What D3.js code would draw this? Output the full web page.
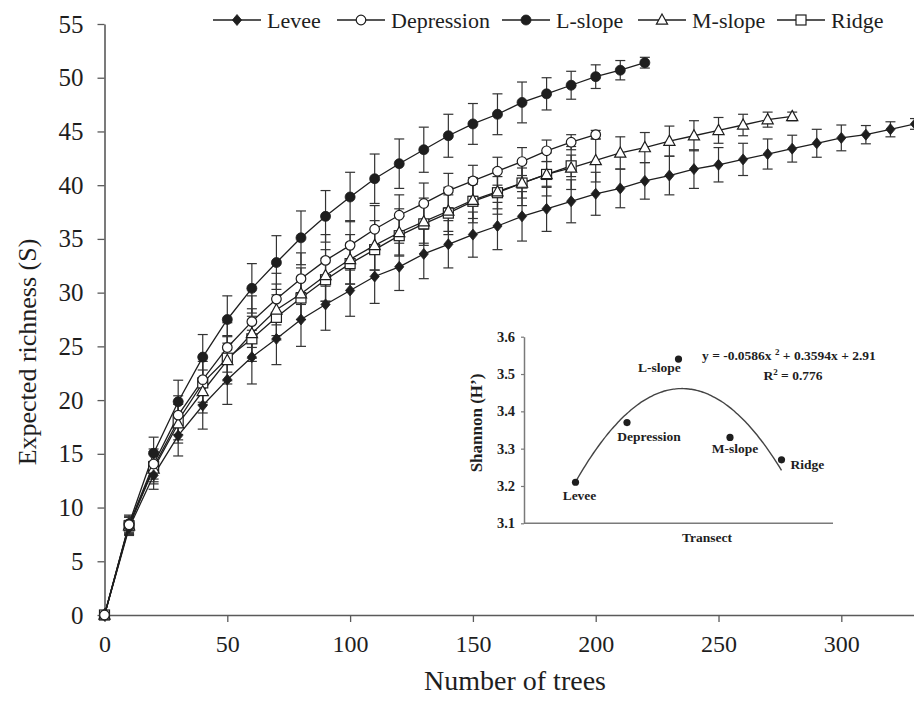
<!DOCTYPE html>
<html>
<head>
<meta charset="utf-8">
<script src="https://cdn.jsdelivr.net/npm/d3@7"></script>
<style>
  html, body { margin: 0; padding: 0; background: #fff; }
  svg { display: block; }
</style>
</head>
<body>
<svg id="chart" width="914" height="707"></svg>
<script>
// ---------------- DATA ----------------
const trees = d3.range(0, 340, 10); // 0..330

const leveeMean = [0, 8.1, 13.0, 16.7, 19.5, 21.9, 24.0, 25.7, 27.5, 28.9, 30.2, 31.5, 32.4, 33.6, 34.5, 35.4, 36.2, 37.1, 37.8, 38.5, 39.2, 39.7, 40.4, 40.9, 41.5, 41.9, 42.4, 42.9, 43.4, 43.9, 44.4, 44.7, 45.2, 45.7];
const leveeSD   = [0, 0.7, 1.3, 1.9, 2.2, 2.3, 2.5, 2.4, 2.5, 2.4, 2.4, 2.5, 2.2, 2.3, 2.2, 2.1, 2.2, 2.3, 2.1, 2.0, 2.0, 1.8, 1.7, 1.8, 1.8, 1.6, 1.5, 1.4, 1.25, 1.3, 1.2, 0.85, 0.7, 0.5];

const depressionMean = [0, 8.4, 14.05, 18.6, 21.9, 24.9, 27.3, 29.4, 31.3, 33.0, 34.4, 35.9, 37.2, 38.3, 39.5, 40.4, 41.3, 42.2, 43.2, 44.0, 44.7];
const depressionSD   = [0, 0.8, 1.4, 1.8, 2.1, 2.3, 2.4, 2.4, 2.4, 2.4, 2.3, 2.2, 1.9, 1.9, 1.6, 1.45, 1.3, 1.3, 1.0, 0.7, 0.4];

const lslopeMean = [0, 8.5, 15.05, 19.85, 24.0, 27.5, 30.4, 32.8, 35.1, 37.1, 38.9, 40.6, 42.0, 43.3, 44.6, 45.7, 46.6, 47.7, 48.5, 49.3, 50.1, 50.7, 51.4];
const lslopeSD   = [0, 0.8, 1.5, 2.0, 2.1, 2.2, 2.3, 2.5, 2.5, 2.4, 2.3, 2.3, 2.3, 2.1, 2.0, 1.9, 1.9, 1.9, 1.5, 1.3, 1.1, 0.9, 0.5];

const mslopeMean = [0, 8.3, 13.6, 17.8, 20.8, 23.7, 26.2, 28.4, 29.9, 31.6, 33.1, 34.4, 35.6, 36.6, 37.6, 38.6, 39.4, 40.2, 41.0, 41.6, 42.3, 43.0, 43.5, 44.1, 44.6, 45.1, 45.6, 46.1, 46.4];
const mslopeSD   = [0, 0.8, 1.4, 1.8, 2.0, 2.2, 2.3, 2.4, 2.4, 2.4, 2.3, 2.3, 2.2, 2.2, 2.2, 2.1, 2.1, 2.1, 2.0, 2.0, 2.0, 1.5, 1.4, 1.4, 1.4, 1.2, 1.0, 0.7, 0.4];

const ridgeMean = [0, 8.3, 13.8, 18.1, 21.6, 23.9, 25.7, 27.7, 29.5, 31.2, 32.7, 34.0, 35.3, 36.4, 37.4, 38.5, 39.3, 40.2, 41.0, 41.8];
const ridgeSD   = [0, 0.8, 1.4, 1.8, 2.0, 2.1, 2.1, 2.1, 2.0, 2.0, 1.9, 1.9, 1.8, 1.8, 1.7, 1.6, 1.5, 1.4, 1.2, 1.0];

const seriesNames = ["Levee", "Depression", "L-slope", "M-slope", "Ridge"];
const xTicks = [0, 50, 100, 150, 200, 250, 300];
const yTicks = [0, 5, 10, 15, 20, 25, 30, 35, 40, 45, 50, 55];

// inset
const insetSites = ["Levee", "Depression", "L-slope", "M-slope", "Ridge"];
const insetX = [1, 2, 3, 4, 5];
const insetShannon = [3.21, 3.37, 3.54, 3.33, 3.27];
const insetYTicks = [3.1, 3.2, 3.3, 3.4, 3.5, 3.6];
const fitCoef = [-0.0586, 0.3594, 2.91]; // a, b, c  (y = a x^2 + b x + c)
const fitR2 = 0.776;

// ---------------- CHART ----------------
const svg = d3.select("#chart");
const FONT = "'Liberation Serif', 'Times New Roman', serif";
const INK = "#1e1e1e";
const AXIS = "#5a5a5a";

const x = d3.scaleLinear().domain([0, 330]).range([104.5, 915]);
const y = d3.scaleLinear().domain([0, 55]).range([615, 24]);

// axes
const gx = svg.append("g").attr("transform", `translate(0,${y(0)})`)
  .call(d3.axisBottom(x).tickValues(xTicks).tickSize(7).tickSizeOuter(0).tickPadding(13));
const gy = svg.append("g").attr("transform", `translate(${x(0)},0)`)
  .call(d3.axisLeft(y).tickValues(yTicks).tickSize(7).tickSizeOuter(0).tickPadding(14));
[gx, gy].forEach(g => {
  g.select(".domain").attr("stroke", AXIS).attr("stroke-width", 1.6);
  g.selectAll(".tick line").attr("stroke", AXIS).attr("stroke-width", 1.3);
  g.selectAll(".tick text").attr("fill", INK).style("font-family", FONT);
});
gx.selectAll(".tick text").style("font-size", "24px");
gy.selectAll(".tick text").style("font-size", "25px");

svg.append("text").attr("x", 515).attr("y", 690).attr("text-anchor", "middle")
  .style("font-family", FONT).style("font-size", "28px").attr("fill", INK).text("Number of trees");
svg.append("text").attr("transform", "translate(36,352) rotate(-90)").attr("text-anchor", "middle")
  .style("font-family", FONT).style("font-size", "26px").attr("fill", INK).text("Expected richness (S)");

// marker drawing helpers
function marker(g, kind, cx, cy) {
  if (kind === "diamond") {
    g.append("path").attr("d", `M${cx},${cy-5.5}L${cx+4.6},${cy}L${cx},${cy+5.5}L${cx-4.6},${cy}Z`)
      .attr("fill", INK).attr("stroke", INK).attr("stroke-width", 0.8);
  } else if (kind === "openCircle") {
    g.append("circle").attr("cx", cx).attr("cy", cy).attr("r", 4.8)
      .attr("fill", "#fff").attr("stroke", INK).attr("stroke-width", 1.2);
  } else if (kind === "filledCircle") {
    g.append("circle").attr("cx", cx).attr("cy", cy).attr("r", 5)
      .attr("fill", INK).attr("stroke", INK).attr("stroke-width", 0.8);
  } else if (kind === "triangle") {
    g.append("path").attr("d", `M${cx},${cy-6}L${cx+5.6},${cy+4.2}L${cx-5.6},${cy+4.2}Z`)
      .attr("fill", "#fff").attr("stroke", INK).attr("stroke-width", 1.2);
  } else if (kind === "square") {
    g.append("rect").attr("x", cx-5).attr("y", cy-5).attr("width", 10).attr("height", 10)
      .attr("fill", "#fff").attr("stroke", INK).attr("stroke-width", 1.2);
  }
}

const series = [
  {name: "Levee", mean: leveeMean, sd: leveeSD, kind: "diamond"},
  {name: "Depression", mean: depressionMean, sd: depressionSD, kind: "openCircle"},
  {name: "L-slope", mean: lslopeMean, sd: lslopeSD, kind: "filledCircle"},
  {name: "M-slope", mean: mslopeMean, sd: mslopeSD, kind: "triangle"},
  {name: "Ridge", mean: ridgeMean, sd: ridgeSD, kind: "square"}
];

const plot = svg.append("g");
const drawOrder = ["Ridge", "M-slope", "Levee", "L-slope", "Depression"];
const line = d3.line().x(d => x(d.t)).y(d => y(d.v));

// error bars first
drawOrder.forEach(nm => {
  const s = series.find(d => d.name === nm);
  const pts = s.mean.map((v, i) => ({t: trees[i], v, e: s.sd[i]}));
  const eg = plot.append("g").attr("stroke", "#333").attr("stroke-width", 1.2);
  pts.filter(p => p.e > 0).forEach(p => {
    eg.append("line").attr("x1", x(p.t)).attr("x2", x(p.t)).attr("y1", y(p.v - p.e)).attr("y2", y(p.v + p.e));
    eg.append("line").attr("x1", x(p.t) - 5).attr("x2", x(p.t) + 5).attr("y1", y(p.v - p.e)).attr("y2", y(p.v - p.e));
    eg.append("line").attr("x1", x(p.t) - 5).attr("x2", x(p.t) + 5).attr("y1", y(p.v + p.e)).attr("y2", y(p.v + p.e));
  });
});
// lines
drawOrder.forEach(nm => {
  const s = series.find(d => d.name === nm);
  const pts = s.mean.map((v, i) => ({t: trees[i], v}));
  plot.append("path").datum(pts).attr("d", line).attr("fill", "none").attr("stroke", INK).attr("stroke-width", 1.3);
});
// markers
drawOrder.forEach(nm => {
  const s = series.find(d => d.name === nm);
  const mg = plot.append("g");
  s.mean.forEach((v, i) => marker(mg, s.kind, x(trees[i]), y(v)));
});

// legend
const legendLineX = [213, 337, 502, 638, 777];
const legend = svg.append("g");
series.forEach((s, i) => {
  const lx = legendLineX[i], ly = 20;
  legend.append("line").attr("x1", lx).attr("x2", lx + 48).attr("y1", ly).attr("y2", ly)
    .attr("stroke", INK).attr("stroke-width", 1.3);
  marker(legend, s.kind, lx + 24, ly);
  legend.append("text").attr("x", lx + 54).attr("y", ly + 7.5)
    .style("font-family", FONT).style("font-size", "22px").attr("fill", INK).text(s.name);
});

// ---------------- INSET ----------------
const xi = d3.scaleLinear().domain([0, 6]).range([524, 833]);
const yi = d3.scaleLinear().domain([3.1, 3.6]).range([523.3, 336.7]);
const inset = svg.append("g");
const INSET_AXIS = "#7a7a7a";
const giy = inset.append("g").attr("transform", `translate(${xi(0)},0)`)
  .call(d3.axisLeft(yi).tickValues(insetYTicks).tickFormat(d3.format(".1f")).tickSize(3).tickSizeOuter(0).tickPadding(6));
giy.select(".domain").attr("stroke", INSET_AXIS).attr("stroke-width", 1.5);
giy.selectAll(".tick line").attr("stroke", INSET_AXIS).attr("stroke-width", 1.2);
giy.selectAll(".tick text").attr("fill", INK).style("font-family", FONT).style("font-size", "14.5px").style("font-weight", "bold");
inset.append("line").attr("x1", xi(0)).attr("x2", xi(6)).attr("y1", yi(3.1)).attr("y2", yi(3.1))
  .attr("stroke", INSET_AXIS).attr("stroke-width", 1.5);

inset.append("text").attr("x", 707).attr("y", 542).attr("text-anchor", "middle")
  .style("font-family", FONT).style("font-size", "13.5px").style("font-weight", "bold").attr("fill", INK).text("Transect");
inset.append("text").attr("transform", "translate(482,423) rotate(-90)").attr("text-anchor", "middle")
  .style("font-family", FONT).style("font-size", "17px").style("font-weight", "bold").attr("fill", INK).text("Shannon (H’)");

// fitted curve
const fit = d3.range(1, 5.0001, 0.05).map(t => ({t, v: fitCoef[0]*t*t + fitCoef[1]*t + fitCoef[2]}));
inset.append("path").datum(fit)
  .attr("d", d3.line().x(d => xi(d.t)).y(d => yi(d.v)).curve(d3.curveBasis))
  .attr("fill", "none").attr("stroke", "#444").attr("stroke-width", 1.4);

// points + labels
const labelPos = [
  {dx: 4, dy: 18, anchor: "middle"},     // Levee
  {dx: 22, dy: 18, anchor: "middle"},    // Depression
  {dx: -19, dy: 13, anchor: "middle"},   // L-slope
  {dx: 5, dy: 16, anchor: "middle"},     // M-slope
  {dx: 9, dy: 9, anchor: "start"}        // Ridge
];
insetSites.forEach((nm, i) => {
  const cx = xi(insetX[i]), cy = yi(insetShannon[i]);
  inset.append("circle").attr("cx", cx).attr("cy", cy).attr("r", 3.6).attr("fill", INK);
  inset.append("text").attr("x", cx + labelPos[i].dx).attr("y", cy + labelPos[i].dy)
    .attr("text-anchor", labelPos[i].anchor)
    .style("font-family", FONT).style("font-size", "13.5px").style("font-weight", "bold").attr("fill", INK).text(nm);
});

// equation
const eq = inset.append("text").attr("x", 702).attr("y", 360)
  .style("font-family", FONT).style("font-size", "13.5px").style("font-weight", "bold").attr("fill", INK);
eq.append("tspan").text(`y = ${fitCoef[0]}x `);
eq.append("tspan").attr("dy", -5).style("font-size", "9px").text("2");
eq.append("tspan").attr("dy", 5).text(` + ${fitCoef[1]}x + ${fitCoef[2]}`);
const r2 = inset.append("text").attr("x", 793).attr("y", 380).attr("text-anchor", "middle")
  .style("font-family", FONT).style("font-size", "13.5px").style("font-weight", "bold").attr("fill", INK);
r2.append("tspan").text("R");
r2.append("tspan").attr("dy", -5).style("font-size", "9px").text("2");
r2.append("tspan").attr("dy", 5).text(` = ${fitR2}`);
</script>
</body>
</html>
